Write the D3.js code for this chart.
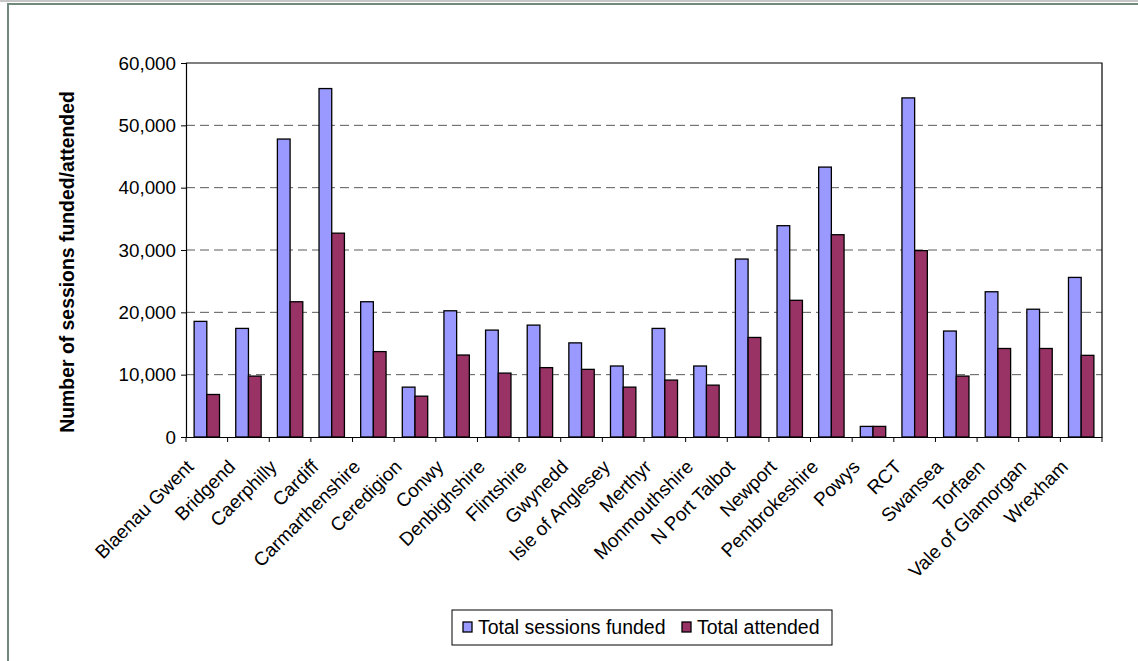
<!DOCTYPE html>
<html>
<head>
<meta charset="utf-8">
<script src="https://cdn.jsdelivr.net/npm/d3@7"></script>
<style>
  html, body { margin: 0; padding: 0; background: #fff; }
  svg { display: block; font-family: Arial, "Liberation Sans", sans-serif; }
</style>
</head>
<body>
<svg id="chart" width="1138" height="661"></svg>
<script>
const categories = ["Blaenau Gwent", "Bridgend", "Caerphilly", "Cardiff", "Carmarthenshire",
  "Ceredigion", "Conwy", "Denbighshire", "Flintshire", "Gwynedd", "Isle of Anglesey",
  "Merthyr", "Monmouthshire", "N Port Talbot", "Newport", "Pembrokeshire", "Powys",
  "RCT", "Swansea", "Torfaen", "Vale of Glamorgan", "Wrexham"];
const seriesNames = ["Total sessions funded", "Total attended"];
const sessionsFunded = [18550, 17420, 47800, 55900, 21700, 8000, 20250, 17150, 17950, 15100,
  11390, 17420, 11390, 28550, 33900, 43300, 1700, 54400, 17000, 23300, 20500, 25600];
const totalAttended = [6820, 9770, 21700, 32700, 13700, 6550, 13150, 10250, 11130, 10850,
  8000, 9130, 8320, 15970, 21930, 32450, 1700, 29900, 9770, 14200, 14200, 13100];
const yTicks = [0, 10000, 20000, 30000, 40000, 50000, 60000];
const yTitle = "Number of sessions funded/attended";
const colors = ["#9999FF", "#993366"];

const svg = d3.select("#chart");

// outer frame
svg.append("rect").attr("x", 0).attr("y", 0).attr("width", 1138).attr("height", 2).attr("fill", "#c6c6c6");
svg.append("path").attr("d", "M8,700 L8,4 L1140,4").attr("fill", "none")
  .attr("stroke", "#6f8a7c").attr("stroke-width", 2);

const L = 186, R = 1102, T = 63, B = 437;
const x = d3.scaleBand().domain(categories).range([L, R]).padding(0);
const y = d3.scaleLinear().domain([0, 60000]).range([B, T]);
const groupW = x.bandwidth() * 0.61;
const x1 = d3.scaleBand().domain(seriesNames).range([0, groupW]).padding(0);

// gridlines
svg.append("g").selectAll("line").data(yTicks.filter(d => d > 0 && d < 60000)).join("line")
  .attr("x1", L).attr("x2", R).attr("y1", d => y(d)).attr("y2", d => y(d))
  .attr("stroke", "#5a5a5a").attr("stroke-width", 1).attr("stroke-dasharray", "9,5");

// plot border (top/right)
svg.append("path").attr("d", `M${L},${T} L${R},${T} L${R},${B}`).attr("fill", "none")
  .attr("stroke", "#000").attr("stroke-width", 1.2);

// bars
const data = categories.map((c, i) => ({ c, vals: [sessionsFunded[i], totalAttended[i]] }));
const groups = svg.append("g").selectAll("g").data(data).join("g")
  .attr("transform", d => `translate(${x(d.c) + (x.bandwidth() - groupW) / 2},0)`);
groups.selectAll("rect").data(d => d.vals.map((v, k) => ({ v, k }))).join("rect")
  .attr("x", d => x1(seriesNames[d.k]))
  .attr("y", d => y(d.v))
  .attr("width", x1.bandwidth())
  .attr("height", d => B - y(d.v))
  .attr("fill", d => colors[d.k])
  .attr("stroke", "#000").attr("stroke-width", 1.3);

// y axis
const yAxis = svg.append("g").attr("transform", `translate(${L},0)`)
  .call(d3.axisLeft(y).tickValues(yTicks).tickFormat(d3.format(",")).tickSize(5).tickPadding(5));
yAxis.select(".domain").attr("stroke", "#000").attr("stroke-width", 1.2);
yAxis.selectAll("text").attr("font-size", 18.8).attr("fill", "#000")
  .attr("font-family", "Arial, 'Liberation Sans', sans-serif");

// x axis
const xAxis = svg.append("g").attr("transform", `translate(0,${B})`)
  .call(d3.axisBottom(x).tickSize(0).tickFormat(""));
xAxis.select(".domain").attr("stroke", "#000").attr("stroke-width", 1.2);
// boundary ticks
svg.append("g").selectAll("line").data(d3.range(categories.length + 1)).join("line")
  .attr("x1", i => L + i * x.step()).attr("x2", i => L + i * x.step())
  .attr("y1", B).attr("y2", B + 5).attr("stroke", "#000").attr("stroke-width", 1);

svg.append("g").selectAll("text").data(categories).join("text")
  .attr("transform", d => `translate(${x(d) + x.bandwidth() / 2 - 12},${B + 31}) rotate(-45)`)
  .attr("text-anchor", "end")
  .attr("font-size", 19)
  .attr("fill", "#000")
  .text(d => d);

// y title
svg.append("text")
  .attr("transform", `translate(74,262) rotate(-90)`)
  .attr("text-anchor", "middle")
  .attr("font-size", 19.4).attr("font-weight", "bold").attr("fill", "#000")
  .text(yTitle);

// legend
const lg = svg.append("g");
lg.append("rect").attr("x", 452).attr("y", 610).attr("width", 380).attr("height", 35)
  .attr("fill", "#fff").attr("stroke", "#000").attr("stroke-width", 1);
const itemX = [463, 682];
seriesNames.forEach((s, k) => {
  lg.append("rect").attr("x", itemX[k]).attr("y", 622).attr("width", 9).attr("height", 10)
    .attr("fill", colors[k]).attr("stroke", "#000").attr("stroke-width", 1.3);
  lg.append("text").attr("x", itemX[k] + 15).attr("y", 634).attr("font-size", 19.5)
    .attr("fill", "#000").text(s);
});
</script>
</body>
</html>
